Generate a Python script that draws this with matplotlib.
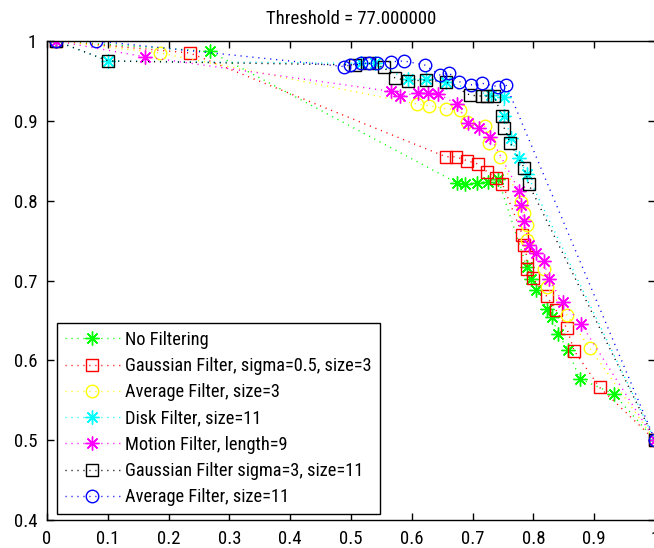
from matplotlib import pyplot as plt
from matplotlib.ticker import FuncFormatter

plt.rcParams['font.family'] = ['Roboto Condensed', 'Liberation Sans', 'DejaVu Sans']
plt.rcParams['font.size'] = 13.5

title = 'Threshold = 77.000000'

labels = ['No Filtering',
          'Gaussian Filter, sigma=0.5, size=3',
          'Average Filter, size=3',
          'Disk Filter, size=11',
          'Motion Filter, length=9',
          'Gaussian Filter sigma=3, size=11',
          'Average Filter, size=11']

# recall / precision pairs for each filter
none_x = [0.015, 0.268, 0.675, 0.687, 0.707, 0.725, 0.742, 0.789, 0.796, 0.804, 0.823,
          0.830, 0.841, 0.857, 0.876, 0.932, 1.0]
none_y = [1.0, 0.987, 0.822, 0.821, 0.822, 0.824, 0.827, 0.717, 0.702, 0.688, 0.664,
          0.654, 0.633, 0.613, 0.577, 0.558, 0.5]

gauss3_x = [0.015, 0.235, 0.656, 0.672, 0.691, 0.709, 0.724, 0.739, 0.749, 0.782, 0.785,
            0.789, 0.789, 0.799, 0.822, 0.837, 0.855, 0.867, 0.909, 1.0]
gauss3_y = [1.0, 0.985, 0.855, 0.855, 0.850, 0.846, 0.836, 0.828, 0.821, 0.757, 0.745,
            0.730, 0.715, 0.703, 0.680, 0.663, 0.640, 0.612, 0.566, 0.5]

avg3_x = [0.015, 0.186, 0.609, 0.628, 0.657, 0.679, 0.691, 0.720, 0.727, 0.745, 0.779,
          0.785, 0.789, 0.790, 0.817, 0.823, 0.855, 0.893, 1.0]
avg3_y = [1.0, 0.985, 0.921, 0.919, 0.915, 0.914, 0.898, 0.893, 0.872, 0.855, 0.798,
          0.784, 0.770, 0.751, 0.715, 0.692, 0.657, 0.615, 0.5]

disk_x = [0.015, 0.101, 0.516, 0.540, 0.593, 0.623, 0.656, 0.730, 0.752, 0.752, 0.763,
          0.776, 0.789, 1.0]
disk_y = [1.0, 0.975, 0.972, 0.972, 0.952, 0.952, 0.949, 0.932, 0.930, 0.906, 0.879,
          0.853, 0.834, 0.5]

motion_x = [0.015, 0.162, 0.565, 0.581, 0.610, 0.627, 0.643, 0.674, 0.692, 0.711, 0.729,
            0.777, 0.779, 0.785, 0.793, 0.804, 0.817, 0.825, 0.848, 0.878, 1.0]
motion_y = [1.0, 0.980, 0.937, 0.931, 0.935, 0.935, 0.934, 0.921, 0.897, 0.891, 0.880,
            0.812, 0.794, 0.774, 0.744, 0.735, 0.724, 0.702, 0.673, 0.646, 0.5]

gauss11_x = [0.015, 0.101, 0.507, 0.529, 0.554, 0.572, 0.593, 0.623, 0.656, 0.696, 0.716,
             0.724, 0.735, 0.749, 0.752, 0.762, 0.785, 0.792, 1.0]
gauss11_y = [1.0, 0.975, 0.970, 0.972, 0.967, 0.954, 0.950, 0.951, 0.949, 0.932, 0.931,
             0.931, 0.931, 0.906, 0.891, 0.872, 0.841, 0.821, 0.5]

avg11_x = [0.015, 0.081, 0.488, 0.499, 0.516, 0.529, 0.543, 0.565, 0.587, 0.621, 0.647,
           0.661, 0.678, 0.697, 0.716, 0.741, 0.755, 1.0]
avg11_y = [1.0, 1.0, 0.968, 0.970, 0.972, 0.972, 0.972, 0.974, 0.975, 0.970, 0.957,
           0.960, 0.949, 0.945, 0.947, 0.943, 0.945, 0.5]

series = [(none_x, none_y), (gauss3_x, gauss3_y), (avg3_x, avg3_y), (disk_x, disk_y),
          (motion_x, motion_y), (gauss11_x, gauss11_y), (avg11_x, avg11_y)]

asterisk = (8, 2, 0)
styles = [((0, 1, 0), asterisk, 10), ((1, 0, 0), 's', 8.5), ((1, 1, 0), 'o', 9),
          ((0, 1, 1), asterisk, 10), ((1, 0, 1), asterisk, 10), ((0, 0, 0), 's', 8.5),
          ((0, 0, 1), 'o', 9)]

fig = plt.figure(figsize=(6.54, 5.48), dpi=100)
ax = fig.add_axes([47 / 654, 28 / 548, 608 / 654, 479 / 548])

for (x, y), (color, marker, size), label in zip(series, styles, labels):
    ax.plot(x, y, linestyle=(0, (0.8, 3.5)), linewidth=1, color=color,
            marker=marker, markersize=size, markerfacecolor='none',
            markeredgecolor=color, markeredgewidth=1.0, label=label)

ax.set_xlim(0, 1)
ax.set_ylim(0.4, 1)
ax.set_xticks([i / 10 for i in range(11)])
ax.set_yticks([0.4, 0.5, 0.6, 0.7, 0.8, 0.9, 1.0])
fmt = FuncFormatter(lambda v, pos: '%g' % round(v, 2))
ax.xaxis.set_major_formatter(fmt)
ax.yaxis.set_major_formatter(fmt)
ax.tick_params(direction='in', length=5, width=1, top=True, right=True, pad=7, labelsize=13.5)
for spine in ax.spines.values():
    spine.set_linewidth(1)

ax.set_title(title, fontsize=13.5, pad=12)

leg = ax.legend(loc='lower left', bbox_to_anchor=(10 / 607, 6 / 479), borderaxespad=0,
                numpoints=1, handlelength=3.0, handletextpad=0.3, labelspacing=0.45,
                borderpad=0.42, fancybox=False, framealpha=1, edgecolor='black',
                fontsize=13.2)
leg.get_frame().set_linewidth(1)

plt.savefig('out.png', dpi=100)
